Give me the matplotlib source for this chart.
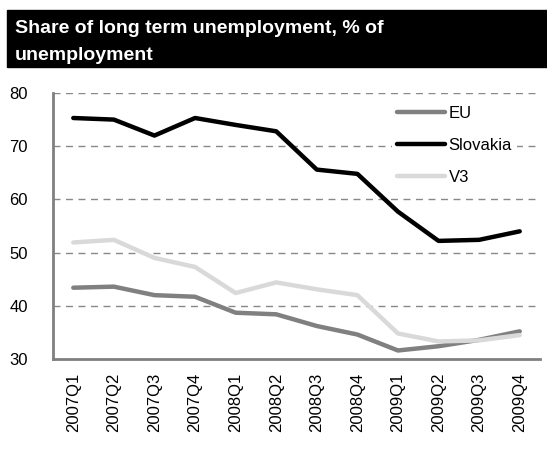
import numpy as np
import matplotlib
matplotlib.use("Agg")
import matplotlib.pyplot as plt
from matplotlib.patches import Rectangle

# datos
quarters = ["2007Q1", "2007Q2", "2007Q3", "2007Q4", "2008Q1", "2008Q2",
            "2008Q3", "2008Q4", "2009Q1", "2009Q2", "2009Q3", "2009Q4"]
eu = [43.4, 43.6, 42.0, 41.7, 38.7, 38.4, 36.2, 34.6, 31.6, 32.4, 33.6, 35.2]
slovakia = [75.3, 75.0, 72.0, 75.3, 74.0, 72.8, 65.6, 64.8, 57.7, 52.2, 52.4, 54.0]
v3 = [51.9, 52.4, 49.0, 47.3, 42.4, 44.4, 43.1, 42.0, 34.8, 33.3, 33.5, 34.5]

plt.rcParams['font.family'] = ['Liberation Sans', 'DejaVu Sans']

fig = plt.figure(figsize=(5.47, 4.59), dpi=100)

# barra negra del titulo
fig.patches.append(Rectangle((7/547, 1 - 67/459), 1, 57/459,
                             transform=fig.transFigure, color="black", zorder=0))
fig.text(15/547, 1 - 33/459, "Share of long term unemployment, % of",
         color="white", fontsize=14, fontweight="bold", va="baseline")
fig.text(15/547, 1 - 60/459, "unemployment",
         color="white", fontsize=14, fontweight="bold", va="baseline")

ax = fig.add_axes([53/547, 1 - 359/459, 487/547, 266/459])
x = np.arange(len(quarters))
ax.plot(x, eu, color="#808080", lw=3.2, label="EU", solid_capstyle="round")
ax.plot(x, slovakia, color="black", lw=3.2, label="Slovakia", solid_capstyle="round")
ax.plot(x, v3, color="#d9d9d9", lw=3.2, label="V3", solid_capstyle="round")

ax.set_xlim(-0.5, 11.5)
ax.set_ylim(30, 80)
ax.set_yticks([30, 40, 50, 60, 70, 80])
ax.set_xticks(x)
ax.set_xticklabels(quarters, rotation=90)
for yv in [40, 50, 60, 70, 80]:
    ax.axhline(yv, color="#888888", lw=1, ls=(0, (5, 4)), zorder=0)

ax.tick_params(length=0, labelsize=12, colors="black")
ax.tick_params(axis="y", pad=18)
ax.tick_params(axis="x", pad=10)
for s in ["top", "right"]:
    ax.spines[s].set_visible(False)
for s in ["left", "bottom"]:
    ax.spines[s].set_color("#808080")
    ax.spines[s].set_linewidth(2)

leg = ax.legend(loc="upper right", bbox_to_anchor=(0.97, 1.0), frameon=True,
                fontsize=12, handlelength=2.9, handletextpad=0.2, labelspacing=1.0,
                borderpad=0.3)
leg.get_frame().set_facecolor("white")
leg.get_frame().set_edgecolor("none")
leg.get_frame().set_alpha(1)

fig.savefig("out.png", dpi=100)
